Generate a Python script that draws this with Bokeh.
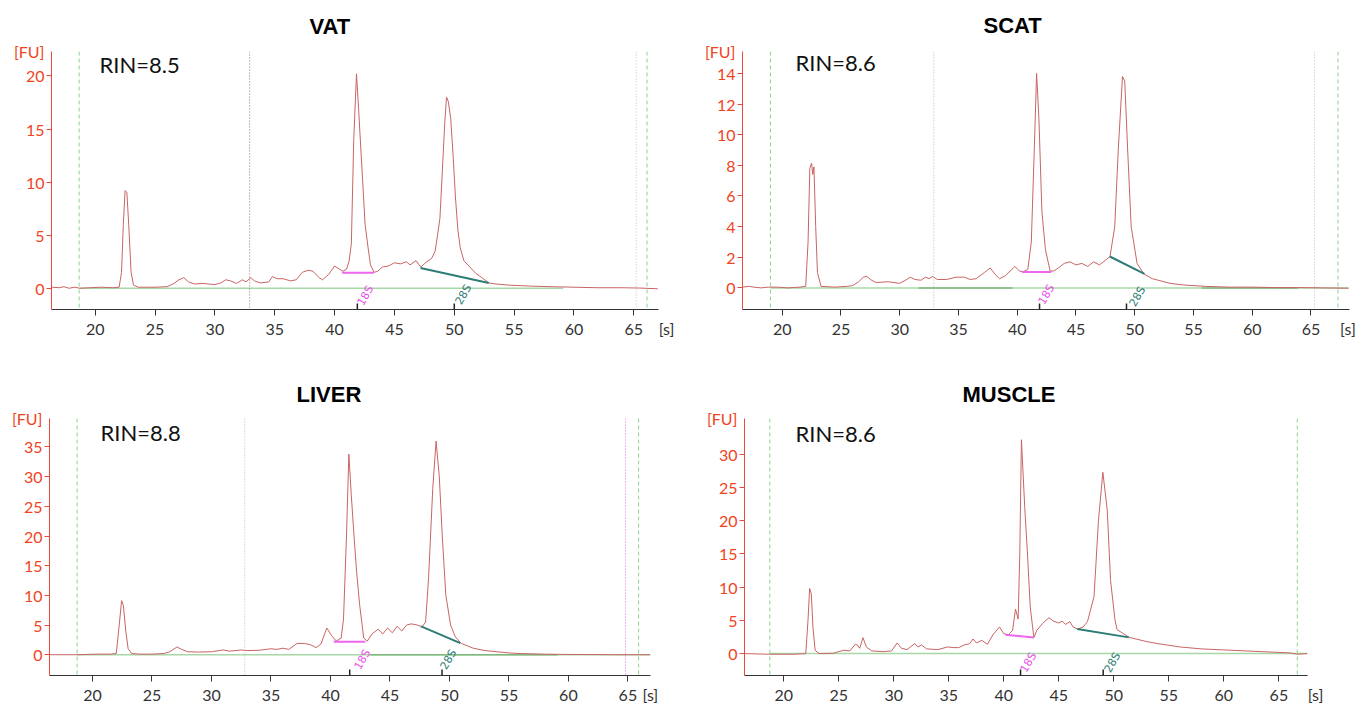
from bokeh.plotting import figure
from bokeh.models import Span, Label, FixedTicker, Range1d
from bokeh.layouts import column, row
from bokeh.embed import file_html
from bokeh.resources import INLINE

# ---------------- data ----------------
titles = ["VAT", "SCAT", "LIVER", "MUSCLE"]
rin_texts = ["RIN=8.5", "RIN=8.6", "RIN=8.8", "RIN=8.6"]
x_ticks = [20, 25, 30, 35, 40, 45, 50, 55, 60, 65]
vat_y_ticks = [0, 5, 10, 15, 20]
scat_y_ticks = [0, 2, 4, 6, 8, 10, 12, 14]
liver_y_ticks = [0, 5, 10, 15, 20, 25, 30, 35]
muscle_y_ticks = [0, 5, 10, 15, 20, 25, 30]
unit_y = "[FU]"
unit_x = "[s]"

vat_x = [16.4, 17.0, 17.4, 17.8, 18.3, 18.7, 19.5, 20.5, 21.5, 22.0,
         22.2, 22.35, 22.5, 22.65, 22.8, 23.0, 23.2, 23.6, 25.0, 26.0,
         26.5, 27.0, 27.4, 27.8, 28.3, 29.0, 30.0, 30.5, 30.9, 31.3,
         31.8, 32.3, 32.6, 33.0, 33.3, 33.8, 34.5, 34.8, 35.2, 35.7,
         36.3, 36.8, 37.3, 37.8, 38.2, 38.7, 39.0, 39.5, 40.0, 40.4,
         40.7, 41.0, 41.2, 41.4, 41.6, 41.83, 42.0, 42.3, 42.55, 42.8,
         43.0, 43.3, 43.6, 44.0, 44.5, 45.0, 45.5, 46.0, 46.3, 46.8,
         47.2, 47.7, 48.1, 48.4, 48.6, 48.8, 49.0, 49.2, 49.35, 49.5,
         49.7, 49.9, 50.1, 50.3, 50.5, 50.8, 51.3, 51.8, 52.3, 52.9,
         53.5, 54.5, 55.5, 56.5, 58.0, 60.0, 62.0, 64.0, 65.5, 67.0]
vat_y = [0.1, 0.05, 0.15, 0.0, 0.1, 0.0, 0.05, 0.1, 0.05, 0.1,
         1.5, 6.0, 9.2, 9.0, 6.0, 1.5, 0.3, 0.1, 0.1, 0.15,
         0.4, 0.8, 1.0, 0.6, 0.4, 0.45, 0.35, 0.5, 0.8, 0.7,
         0.45, 0.8, 0.6, 1.0, 0.7, 0.5, 0.6, 1.1, 0.9, 0.9,
         0.7, 0.8, 1.5, 1.7, 1.6, 1.0, 0.8, 1.3, 2.1, 1.8,
         1.6, 1.8, 2.5, 4.2, 14.0, 20.2, 17.0, 11.0, 6.0, 3.8,
         2.2, 1.5, 1.6, 2.0, 2.1, 2.4, 2.3, 2.5, 2.2, 2.6,
         2.0, 2.5, 2.8, 3.5, 5.0, 6.6, 11.0, 15.5, 18.0, 17.6,
         16.0, 12.5, 8.5, 5.5, 3.8, 2.6, 2.0, 1.4, 1.0, 0.5,
         0.4, 0.3, 0.25, 0.2, 0.15, 0.1, 0.05, 0.05, 0.02, -0.05]

scat_x = [16.6, 17.2, 17.6, 18.2, 18.8, 19.5, 20.5, 21.5, 22.0, 22.2,
          22.35, 22.5, 22.6, 22.7, 22.85, 23.0, 23.3, 24.5, 25.5, 26.0,
          26.5, 26.9, 27.2, 27.6, 28.0, 29.0, 30.0, 30.5, 30.9, 31.3,
          31.8, 32.2, 32.5, 32.8, 33.2, 34.0, 34.8, 35.5, 36.0, 36.5,
          37.2, 37.7, 38.1, 38.5, 39.0, 39.8, 40.2, 40.5, 40.9, 41.2,
          41.45, 41.65, 41.85, 42.1, 42.4, 42.8, 43.1, 43.5, 44.0, 44.5,
          45.0, 45.5, 46.0, 46.5, 47.0, 47.5, 47.9, 48.3, 48.6, 48.96,
          49.15, 49.4, 49.7, 50.2, 50.8, 51.5, 52.0, 53.0, 54.0, 56.0,
          58.0, 60.0, 62.0, 64.0, 66.0, 68.2]
scat_y = [0.05, 0.1, 0.05, 0.0, 0.05, 0.05, 0.0, 0.05, 0.1, 3.0,
          7.8, 8.15, 7.4, 7.9, 4.0, 1.0, 0.1, 0.05, 0.1, 0.15,
          0.4, 0.7, 0.75, 0.5, 0.35, 0.4, 0.3, 0.5, 0.7, 0.55,
          0.5, 0.7, 0.6, 0.75, 0.55, 0.55, 0.7, 0.7, 0.55, 0.6,
          1.0, 1.3, 0.9, 0.6, 0.8, 1.4, 1.1, 1.05, 1.2, 3.0,
          9.0, 14.0, 11.0, 5.0, 2.5, 1.1, 1.1, 1.3, 1.6, 1.7,
          1.5, 1.6, 1.4, 1.7, 1.5, 1.8, 2.05, 4.0, 9.0, 13.8,
          13.5, 9.0, 4.0, 1.6, 0.9, 0.6, 0.5, 0.3, 0.2, 0.1,
          0.05, 0.05, 0.02, 0.02, 0.0, -0.02]

liver_x = [16.4, 18.7, 20.5, 21.5, 22.0, 22.25, 22.45, 22.6, 22.8, 23.0,
           23.3, 24.0, 25.0, 26.0, 26.5, 27.1, 27.5, 28.0, 29.0, 30.0,
           31.0, 31.5, 32.0, 32.5, 33.0, 34.0, 35.0, 35.5, 36.0, 36.5,
           37.2, 37.8, 38.3, 38.8, 39.2, 39.7, 40.1, 40.5, 40.9, 41.1,
           41.35, 41.55, 41.75, 41.95, 42.2, 42.45, 42.8, 43.1, 43.5, 44.0,
           44.4, 44.8, 45.2, 45.6, 46.0, 46.4, 46.8, 47.3, 47.7, 48.0,
           48.25, 48.6, 48.88, 49.15, 49.4, 49.7, 50.1, 50.5, 51.0, 51.5,
           52.0, 53.0, 54.0, 55.0, 56.0, 58.0, 60.0, 62.0, 64.0, 66.9]
liver_y = [0.0, 0.0, 0.1, 0.1, 0.2, 5.0, 9.1, 8.3, 4.0, 1.0,
           0.2, 0.1, 0.1, 0.2, 0.5, 1.3, 0.9, 0.5, 0.45, 0.5,
           0.8, 0.6, 0.7, 0.8, 0.7, 0.75, 1.0, 0.9, 1.1, 0.9,
           1.9, 1.9, 1.7, 1.2, 1.8, 4.5, 3.2, 2.3, 2.8, 6.0,
           20.0, 33.8, 27.0, 21.0, 14.0, 8.5, 2.8, 2.3, 3.5, 4.3,
           3.5, 4.5, 3.7, 4.8, 4.0, 5.0, 5.2, 5.0, 4.7, 5.5,
           13.0, 28.0, 36.0, 30.0, 20.0, 10.0, 5.0, 3.0, 1.9, 1.5,
           1.1, 0.7, 0.5, 0.3, 0.2, 0.1, 0.05, 0.03, 0.0, 0.0]

muscle_x = [16.4, 18.7, 20.0, 21.0, 22.0, 22.2, 22.35, 22.5, 22.65, 22.85,
            23.2, 24.5, 25.0, 25.5, 26.0, 26.5, 26.7, 26.9, 27.2, 27.5,
            28.0, 29.0, 29.8, 30.3, 30.7, 31.2, 31.9, 32.2, 32.5, 33.0,
            34.0, 34.9, 35.4, 35.9, 36.4, 36.9, 37.2, 37.5, 38.0, 38.5,
            39.0, 39.6, 40.0, 40.4, 40.8, 41.06, 41.3, 41.45, 41.6, 41.9,
            42.15, 42.4, 42.73, 43.0, 43.5, 44.1, 44.5, 45.0, 45.3, 45.6,
            46.0, 46.3, 46.7, 47.2, 47.6, 48.2, 48.6, 49.0, 49.4, 49.7,
            50.1, 50.3, 51.4, 52.0, 53.0, 54.0, 56.0, 58.0, 60.0, 62.0,
            64.0, 66.0, 66.7, 67.6]
muscle_y = [0.0, -0.1, -0.1, -0.1, 0.0, 5.0, 9.8, 9.0, 4.0, 0.5,
            0.0, 0.05, 0.3, 0.5, 0.4, 1.4, 1.3, 0.8, 2.4, 1.0,
            0.4, 0.3, 0.4, 1.6, 0.8, 0.6, 1.5, 1.0, 1.3, 0.7,
            0.6, 1.0, 0.9, 0.9, 1.3, 1.5, 2.2, 1.6, 2.0, 1.4,
            2.8, 4.0, 3.0, 2.8, 3.5, 6.7, 5.2, 15.0, 32.2, 22.0,
            15.0, 7.0, 2.4, 3.5, 4.5, 5.4, 4.9, 4.6, 4.9, 4.4,
            4.8, 4.0, 3.7, 4.0, 4.8, 8.6, 20.0, 27.3, 21.6, 11.0,
            5.1, 3.6, 2.44, 2.2, 1.8, 1.5, 1.0, 0.7, 0.55, 0.4,
            0.25, 0.1, -0.1, 0.0]

# 18S / 28S baselines (x0, y0, x1, y1)
seg18 = [(40.63, 1.46, 43.28, 1.46), (40.40, 1.04, 42.90, 1.04),
         (40.28, 2.18, 42.94, 2.18), (40.15, 2.84, 42.73, 2.44)]
seg28 = [(47.18, 1.90, 52.88, 0.50), (47.88, 2.05, 50.83, 0.91),
         (47.62, 4.77, 50.92, 1.96), (46.67, 3.69, 51.36, 2.44)]
markers = [(41.9, 50.0), (41.9, 49.3), (41.62, 49.38), (41.52, 49.03)]
baseline = [(18.7, 59.1), (19.0, 68.2), (18.7, 66.9), (18.7, 67.6)]
dark_baseline = [[], [(31.6, 39.6), (55.7, 63.9)], [(43.3, 59.1)], []]
green_lines = [(18.66, 66.1), (19.0, 67.3), (18.71, 65.9), (18.73, 66.67)]
dotted_lines = [[(32.9, "#9a7070"), (65.2, "#d8b0b4")],
                [(32.9, "#d0a8b0"), (65.3, "#d8b0b4")],
                [(32.8, "#e0a8b0"), (64.8, "#d070d0")],
                []]

# ---------------- layout ----------------
geom = [
    dict(ox=0, oy=0, w=690, h=355, bl=51, br=32, bt=49, bb=46,
         xr=(16.35, 67.06), yr=(-2.0, 22.3)),
    dict(ox=690, oy=0, w=679, h=355, bl=52, br=20, bt=51, bb=45,
         xr=(16.62, 68.28), yr=(-1.41, 15.43)),
    dict(ox=0, oy=355, w=690, h=351, bl=49, br=40, bt=63, bb=30,
         xr=(16.39, 66.9), yr=(-3.5, 39.8)),
    dict(ox=690, oy=355, w=679, h=351, bl=54, br=62, bt=62, bb=30,
         xr=(16.43, 67.6), yr=(-3.3, 35.4)),
]
fu_tick = [22.29, 15.42, 39.79, 35.39]
s_tick = [67.05, 68.15, 66.89, 67.59]
s_pad = [4, 0, 0, 4]
title_left_px = [309, 983, 296, 962]
title_standoff = [21, 23, 19, 19]
rin_px = [(99, 62), (795, 62), (100, 432), (795, 432)]
lab18_px = [(365, 295), (1046, 295), (362, 660), (1028, 663)]
lab28_px = [(463, 294), (1137, 297), (448, 660), (1112, 663)]

traces = [(vat_x, vat_y), (scat_x, scat_y), (liver_x, liver_y), (muscle_x, muscle_y)]
yticks = [vat_y_ticks, scat_y_ticks, liver_y_ticks, muscle_y_ticks]

RED = "#f0441e"
TRACE = "#c96464"
NBSP = "\u00a0"


def make_panel(i):
    g = geom[i]
    x0, x1 = g["xr"]
    y0, y1 = g["yr"]
    fl = g["ox"] + g["bl"]
    fr = g["ox"] + g["w"] - g["br"]
    ft = g["oy"] + g["bt"]
    fb = g["oy"] + g["h"] - g["bb"]
    fh = fb - ft

    def d(px, py):
        return (x0 + (px - fl) / (fr - fl) * (x1 - x0),
                y1 - (py - ft) / (fb - ft) * (y1 - y0))

    p = figure(width=g["w"], height=g["h"], x_range=Range1d(x0, x1), y_range=Range1d(y0, y1),
               min_border_left=g["bl"], min_border_right=g["br"],
               min_border_top=g["bt"], min_border_bottom=g["bb"],
               output_backend="svg", toolbar_location=None, tools="")
    p.title.text = titles[i]
    p.title.align = "left"
    p.title.vertical_align = "top"
    p.title.offset = title_left_px[i] - fl
    p.title.text_font = "Liberation Sans"
    p.title.text_font_style = "bold"
    p.title.text_font_size = "22px"
    p.title.text_color = "black"
    p.title.standoff = title_standoff[i]
    p.grid.visible = False
    p.outline_line_color = None
    p.background_fill_color = "white"
    p.border_fill_color = "white"

    xa = p.xaxis[0]
    xa.ticker = FixedTicker(ticks=x_ticks + [s_tick[i]], minor_ticks=x_ticks)
    xa.major_label_overrides = {s_tick[i]: NBSP * s_pad[i] + unit_x}
    xa.axis_line_color = "#333333"
    xa.major_tick_line_color = None
    xa.major_tick_out = 6
    xa.major_tick_in = 0
    xa.minor_tick_line_color = "#333333"
    xa.minor_tick_out = 6
    xa.minor_tick_in = 0
    xa.major_label_text_font = "Lato"
    xa.major_label_text_font_size = "16px"
    xa.major_label_text_color = "#333333"
    xa.major_label_standoff = 3

    ya = p.yaxis[0]
    ya.ticker = FixedTicker(ticks=yticks[i] + [fu_tick[i]], minor_ticks=yticks[i])
    ya.major_label_overrides = {fu_tick[i]: unit_y}
    ya.axis_line_color = "#e84a3c"
    ya.major_tick_line_color = None
    ya.major_tick_out = 5
    ya.major_tick_in = 0
    ya.minor_tick_line_color = "#e84a3c"
    ya.minor_tick_out = 5
    ya.minor_tick_in = 0
    ya.major_label_text_font = "Lato"
    ya.major_label_text_font_size = "16px"
    ya.major_label_text_color = RED
    ya.major_label_standoff = 2

    for gx in green_lines[i]:
        p.add_layout(Span(location=gx, dimension="height", line_color="#8fd08f",
                          line_dash="4 3", line_width=1))
    for dx, col in dotted_lines[i]:
        p.add_layout(Span(location=dx, dimension="height", line_color=col,
                          line_dash="1 2", line_width=1))

    b0, b1 = baseline[i]
    p.line([b0, b1], [0, 0], line_color="#a8d8a8", line_width=1.5)
    for a0, a1 in dark_baseline[i]:
        p.line([a0, a1], [0, 0], line_color="#7fb87f", line_width=1.5)

    xs, ys = traces[i]
    p.line(xs, ys, line_color=TRACE, line_width=1)

    s = seg18[i]
    p.line([s[0], s[2]], [s[1], s[3]], line_color="#ee66ee", line_width=2)
    s = seg28[i]
    p.line([s[0], s[2]], [s[1], s[3]], line_color="#2e7d74", line_width=2)

    dy = 6 * (y1 - y0) / fh
    m18, m28 = markers[i]
    p.segment(x0=[m18, m28], y0=[y0, y0], x1=[m18, m28], y1=[y0 + dy, y0 + dy],
              line_color="#222222", line_width=1.5)

    rx, ry = d(*rin_px[i])
    p.add_layout(Label(x=rx, y=ry, text=rin_texts[i], text_font="Lato",
                       text_font_size="22px", text_color="#111111",
                       text_align="left", text_baseline="middle"))
    lx, ly = d(*lab18_px[i])
    p.add_layout(Label(x=lx, y=ly, text="18S", text_font="DejaVu Sans",
                       text_font_size="11px", text_color="#e850e8", angle=1.05,
                       text_align="center", text_baseline="middle"))
    lx, ly = d(*lab28_px[i])
    p.add_layout(Label(x=lx, y=ly, text="28S", text_font="DejaVu Sans",
                       text_font_size="11px", text_color="#2e7d74", angle=1.05,
                       text_align="center", text_baseline="middle"))
    return p


panels = [make_panel(i) for i in range(4)]
layout = column(row(panels[0], panels[1]), row(panels[2], panels[3]))
open("out.html", "w").write(file_html(layout, INLINE))
